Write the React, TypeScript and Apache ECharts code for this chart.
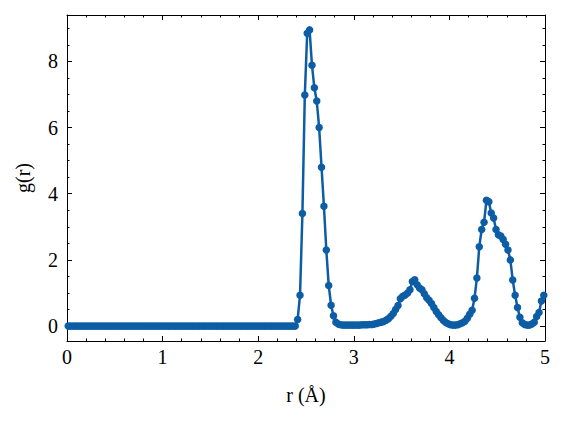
import React, { useEffect, useRef } from "react";
import * as echarts from "echarts";

const rValues: number[] = [
  0.0125, 0.0375, 0.0625, 0.0875, 0.1125, 0.1375, 0.1625, 0.1875, 0.2125, 0.2375,
  0.2625, 0.2875, 0.3125, 0.3375, 0.3625, 0.3875, 0.4125, 0.4375, 0.4625, 0.4875,
  0.5125, 0.5375, 0.5625, 0.5875, 0.6125, 0.6375, 0.6625, 0.6875, 0.7125, 0.7375,
  0.7625, 0.7875, 0.8125, 0.8375, 0.8625, 0.8875, 0.9125, 0.9375, 0.9625, 0.9875,
  1.0125, 1.0375, 1.0625, 1.0875, 1.1125, 1.1375, 1.1625, 1.1875, 1.2125, 1.2375,
  1.2625, 1.2875, 1.3125, 1.3375, 1.3625, 1.3875, 1.4125, 1.4375, 1.4625, 1.4875,
  1.5125, 1.5375, 1.5625, 1.5875, 1.6125, 1.6375, 1.6625, 1.6875, 1.7125, 1.7375,
  1.7625, 1.7875, 1.8125, 1.8375, 1.8625, 1.8875, 1.9125, 1.9375, 1.9625, 1.9875,
  2.0125, 2.0375, 2.0625, 2.0875, 2.1125, 2.1375, 2.1625, 2.1875, 2.2125, 2.2375,
  2.2625, 2.2875, 2.3125, 2.3375, 2.3625, 2.3875, 2.4125, 2.4375, 2.4625, 2.4875,
  2.5125, 2.5375, 2.5625, 2.5875, 2.6125, 2.6375, 2.6625, 2.6875, 2.7125, 2.7375,
  2.7625, 2.7875, 2.8125, 2.8375, 2.8625, 2.8875, 2.9125, 2.9375, 2.9625, 2.9875,
  3.0125, 3.0375, 3.0625, 3.0875, 3.1125, 3.1375, 3.1625, 3.1875, 3.2125, 3.2375,
  3.2625, 3.2875, 3.3125, 3.3375, 3.3625, 3.3875, 3.4125, 3.4375, 3.4625, 3.4875,
  3.5125, 3.5375, 3.5625, 3.5875, 3.6125, 3.6375, 3.6625, 3.6875, 3.7125, 3.7375,
  3.7625, 3.7875, 3.8125, 3.8375, 3.8625, 3.8875, 3.9125, 3.9375, 3.9625, 3.9875,
  4.0125, 4.0375, 4.0625, 4.0875, 4.1125, 4.1375, 4.1625, 4.1875, 4.2125, 4.2375,
  4.2625, 4.2875, 4.3125, 4.3375, 4.3625, 4.3875, 4.4125, 4.4375, 4.4625, 4.4875,
  4.5125, 4.5375, 4.5625, 4.5875, 4.6125, 4.6375, 4.6625, 4.6875, 4.7125, 4.7375,
  4.7625, 4.7875, 4.8125, 4.8375, 4.8625, 4.8875, 4.9125, 4.9375, 4.9625, 4.9875,
];

const gValues: number[] = [
  0, 0, 0, 0, 0, 0, 0, 0, 0, 0,
  0, 0, 0, 0, 0, 0, 0, 0, 0, 0,
  0, 0, 0, 0, 0, 0, 0, 0, 0, 0,
  0, 0, 0, 0, 0, 0, 0, 0, 0, 0,
  0, 0, 0, 0, 0, 0, 0, 0, 0, 0,
  0, 0, 0, 0, 0, 0, 0, 0, 0, 0,
  0, 0, 0, 0, 0, 0, 0, 0, 0, 0,
  0, 0, 0, 0, 0, 0, 0, 0, 0, 0,
  0, 0, 0, 0, 0, 0, 0, 0, 0, 0,
  0, 0, 0, 0, 0, 0, 0.2, 0.93, 3.4, 6.98,
  8.85, 8.95, 7.88, 7.2, 6.8, 6.0, 4.8, 3.62, 2.3, 1.23,
  0.63, 0.31, 0.12, 0.06, 0.04, 0.03, 0.03, 0.03, 0.03, 0.03,
  0.03, 0.03, 0.03, 0.04, 0.04, 0.04, 0.05, 0.05, 0.06, 0.08,
  0.1, 0.12, 0.14, 0.18, 0.22, 0.3, 0.38, 0.5, 0.62, 0.83,
  0.9, 0.94, 1.0, 1.1, 1.35, 1.4, 1.25, 1.15, 1.1, 0.98,
  0.86, 0.78, 0.68, 0.56, 0.44, 0.34, 0.25, 0.17, 0.11, 0.07,
  0.04, 0.03, 0.03, 0.04, 0.07, 0.1, 0.15, 0.24, 0.36, 0.48,
  0.84, 1.45, 2.4, 2.92, 3.14, 3.8, 3.76, 3.42, 3.27, 2.92,
  2.76, 2.72, 2.62, 2.47, 2.3, 2.0, 1.39, 0.93, 0.56, 0.27,
  0.1, 0.05, 0.03, 0.03, 0.06, 0.12, 0.29, 0.41, 0.76, 0.93,
];

const xLabel = "r (Å)";
const yLabel = "g(r)";

const FONT = "'Liberation Serif', 'DejaVu Serif', serif";
const LINE_COLOR = "#0C5DA5";

export default function App() {
  const ref = useRef<HTMLDivElement>(null);

  useEffect(() => {
    if (!ref.current) return;
    const chart = echarts.init(ref.current, undefined, { renderer: "svg" });
    const axisLine = { show: true, onZero: false, lineStyle: { color: "#000", width: 1 } };
    const tickStyle = { color: "#000", width: 1 };

    const xAxisDef = (pos: "bottom" | "top", showLabel: boolean) => ({
      type: "value",
      position: pos,
      min: 0,
      max: 5,
      interval: 1,
      axisLine,
      axisTick: { show: true, inside: true, length: 5, lineStyle: tickStyle },
      minorTick: { show: true, splitNumber: 5, length: 2.5, lineStyle: tickStyle },
      splitLine: { show: false },
      minorSplitLine: { show: false },
      axisLabel: {
        show: showLabel,
        color: "#000",
        fontFamily: FONT,
        fontSize: 20,
        margin: 6,
      },
      name: showLabel ? xLabel : "",
      nameLocation: "middle",
      nameGap: 44,
      nameTextStyle: { color: "#000", fontFamily: FONT, fontSize: 20 },
    });

    const yAxisDef = (pos: "left" | "right", showLabel: boolean) => ({
      type: "value",
      position: pos,
      min: -0.45,
      max: 9.4,
      splitNumber: 5,
      axisLine,
      axisTick: { show: true, inside: true, length: 5, lineStyle: tickStyle },
      minorTick: { show: true, splitNumber: 4, length: 2.5, lineStyle: tickStyle },
      splitLine: { show: false },
      minorSplitLine: { show: false },
      axisLabel: {
        show: showLabel,
        showMinLabel: false,
        showMaxLabel: false,
        color: "#000",
        fontFamily: FONT,
        fontSize: 20,
        margin: 9,
      },
      name: showLabel ? yLabel : "",
      nameLocation: "middle",
      nameGap: 34,
      nameTextStyle: { color: "#000", fontFamily: FONT, fontSize: 20 },
    });

    chart.setOption({
      animation: false,
      backgroundColor: "#fff",
      grid: { left: 67, right: 20, top: 15, bottom: 84, containLabel: false },
      xAxis: [xAxisDef("bottom", true), xAxisDef("top", false)],
      yAxis: [yAxisDef("left", true), yAxisDef("right", false)],
      series: [
        {
          type: "line",
          xAxisIndex: 0,
          yAxisIndex: 0,
          data: rValues.map((r, i) => [r, gValues[i]]),
          symbol: "circle",
          symbolSize: 7.5,
          showSymbol: true,
          clip: true,
          lineStyle: { color: LINE_COLOR, width: 2.5 },
          itemStyle: { color: LINE_COLOR },
        },
      ],
    });

    return () => chart.dispose();
  }, []);

  return (
    <div
      ref={ref}
      style={{ position: "fixed", left: 0, top: 0, width: 565, height: 425, background: "#fff" }}
    />
  );
}
